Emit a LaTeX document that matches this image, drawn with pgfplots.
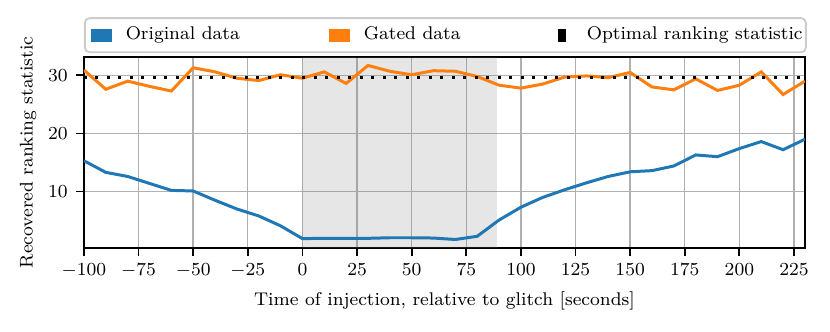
\documentclass[border=0pt]{standalone}
\usepackage{pgfplots}
\pgfplotsset{compat=1.18}

\definecolor{tabblue}{HTML}{1F77B4}
\definecolor{taborange}{HTML}{FF7F0E}
\definecolor{gridgray}{HTML}{B0B0B0}

\begin{document}
\begin{tikzpicture}
\begin{axis}[
  scale only axis, width=313.5pt, height=83pt,
  xmin=-100, xmax=230, ymin=0.3, ymax=33.15,
  xtick={-100,-75,...,225}, ytick={10,20,30},
  tick pos=left, tick align=outside, major tick length=3.5pt,
  grid=major, major grid style={gridgray, line width=0.6pt},
  axis line style={line width=0.8pt},
  every tick/.style={black, line width=0.8pt},
  tick label style={font=\footnotesize},
  label style={font=\footnotesize},
  xlabel={Time of injection,\ relative to glitch [seconds]},
  ylabel={Recovered ranking statistic},
  xlabel style={at={(axis description cs:0.5,-0.277)}, anchor=center},
  ylabel style={at={(axis description cs:-0.0775,0.5)}, anchor=center},
  legend columns=3, legend cell align=left,
  legend style={font=\footnotesize, at={(0,1.0205)}, anchor=south west,
    draw=black!20, fill=white, rounded corners=2pt, line width=0.8pt,
    inner xsep=0pt, inner ysep=3.8pt, column sep=0pt,
    nodes={inner sep=0pt, text height=5.6pt, text depth=1.6pt}},
]
% glitch window
\addplot[draw=none, fill=gray, fill opacity=0.2, forget plot]
  coordinates {(0,0.3) (0,33.15) (88.9,33.15) (88.9,0.3)} -- cycle;

\addplot[tabblue, line width=1.3pt,
  legend image code/.code={\path[draw=none, fill=none] (0,0) rectangle (17.8pt,0);
    \fill[tabblue, draw=none, sharp corners] (2.6pt,-2.85pt) rectangle (11.7pt,2.85pt);}]
  coordinates {(-100,15.3)(-90,13.3)(-80,12.6)(-70,11.4)(-60,10.2)(-50,10.1)
  (-40,8.5)(-30,7.0)(-20,5.8)(-10,4.1)(0,1.9)(10,1.95)(20,1.95)(30,1.95)
  (40,2.05)(50,2.05)(60,2.0)(70,1.75)(80,2.3)(90,5.1)(100,7.3)(110,9.0)
  (120,10.3)(130,11.5)(140,12.6)(150,13.4)(160,13.6)(170,14.4)(180,16.3)
  (190,16.0)(200,17.4)(210,18.6)(220,17.2)(230,19.0)};
\addlegendentry{\makebox[85.6pt][l]{Original data}}

\addplot[taborange, line width=1.3pt,
  legend image code/.code={\path[draw=none, fill=none] (0,0) rectangle (17.9pt,0);
    \fill[taborange, draw=none, sharp corners] (2.6pt,-2.85pt) rectangle (11.7pt,2.85pt);}]
  coordinates {(-100,30.9)(-90,27.6)(-80,29.0)(-70,28.1)(-60,27.3)(-50,31.3)
  (-40,30.6)(-30,29.5)(-20,29.1)(-10,30.1)(0,29.5)(10,30.6)(20,28.6)(30,31.7)
  (40,30.7)(50,30.1)(60,30.8)(70,30.7)(80,29.8)(90,28.3)(100,27.8)(110,28.5)
  (120,29.7)(130,29.9)(140,29.6)(150,30.5)(160,28.0)(170,27.5)(180,29.4)
  (190,27.4)(200,28.3)(210,30.6)(220,26.7)(230,29.0)};
\addlegendentry{\makebox[78.9pt][l]{Gated data}}

\addplot[black, line width=1.3pt, dash pattern=on 1.3pt off 3.7pt,
  legend image code/.code={\path[draw=none, fill=none] (0,0) rectangle (18.1pt,0);
    \fill[black, draw=none, sharp corners] (5.4pt,-2.85pt) rectangle (8.9pt,2.85pt);}]
  coordinates {(-100,29.6)(230,29.6)};
\addlegendentry{\makebox[95.2pt][l]{Optimal ranking statistic}}

\coordinate (ll) at (rel axis cs:0,0);
\coordinate (ur) at (rel axis cs:1,1);
\end{axis}
\pgfresetboundingbox
\path[use as bounding box] ([xshift=-36.5pt,yshift=-36.5pt]ll)
  rectangle ([xshift=10.9pt,yshift=24.8pt]ur);
\end{tikzpicture}
\end{document}
